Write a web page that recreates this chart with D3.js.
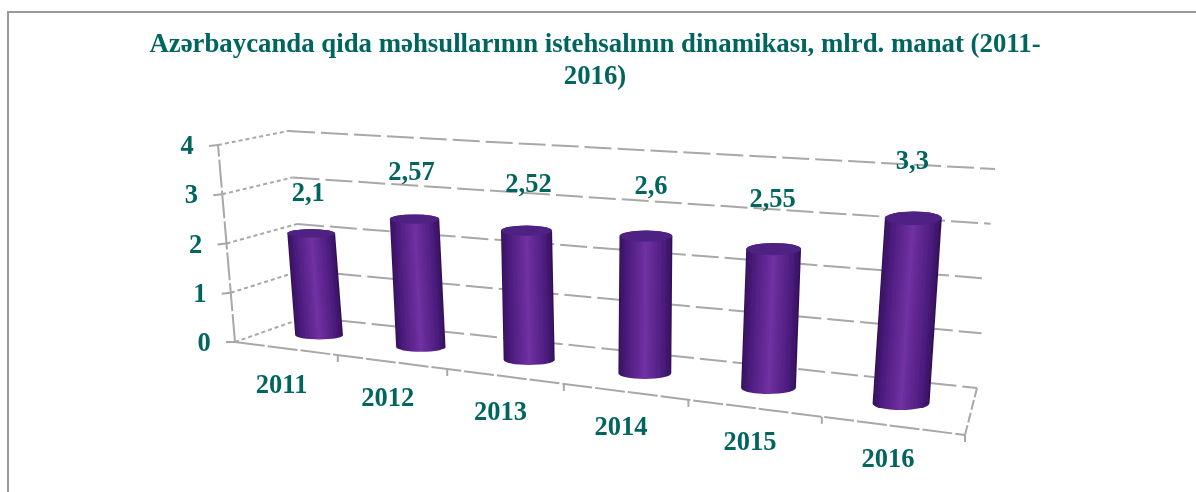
<!DOCTYPE html>
<html><head><meta charset="utf-8">
<script src="https://cdn.jsdelivr.net/npm/d3@7"></script>
<style>html,body{margin:0;padding:0;background:#fff}svg{display:block}text{font-family:"Liberation Serif",serif;font-weight:bold;fill:#05655f}</style>
</head><body><div id="c"></div>
<script>
const categories = ["2011","2012","2013","2014","2015","2016"];
const values = [2.1,2.57,2.52,2.6,2.55,3.3];
const valueLabels = ["2,1","2,57","2,52","2,6","2,55","3,3"];
const titleLines = ["Azərbaycanda qida məhsullarının istehsalının dinamikası, mlrd. manat (2011-","2016)"];

const W=1196,H=492;
const svg=d3.select("#c").append("svg").attr("width",W).attr("height",H);
const defs=svg.append("defs");
const grad=defs.append("linearGradient").attr("id","cyl");
[[0,"#35105c"],[0.14,"#4a1b7c"],[0.5,"#7031a2"],[0.86,"#4a1b7c"],[1,"#320f58"]].forEach(([o,c])=>grad.append("stop").attr("offset",o).attr("stop-color",c));
defs.append("filter").attr("id","soft").append("feGaussianBlur").attr("stdDeviation",0.55);
const root=svg.append("g").attr("filter","url(#soft)");

// frame of the 3-D box (layout, not data)
const corners={fl0:[235,342],fr0:[965,435],bl0:[306,317],br0:[977,388],
               fl1:[218,145],fr1:[984,198],bl1:[288,131],br1:[995,169]};
// hand-placed label shifts seen in the reference (layout, not data)
const labelDx=[-3,-3,2,5,-1,-1], labelDy=[-3,-8,-5,-7,-4,-9];
const lerp=(a,b)=>d3.scaleLinear().domain([0,1]).range([a,b]);
const mix=(a,b,t)=>[lerp(a[0],b[0])(t),lerp(a[1],b[1])(t)];
const k=1.22;                                   // perspective foreshortening along x
const warp=t=>t/(t+k*(1-t));
const vScale=d3.scaleLinear().domain([0,4]).range([0,1]);
const xBand=d3.scaleBand().domain(categories).range([0,1]);
function proj(t,d,v){
  const u=warp(t),h=vScale(v);
  const f=mix(mix(corners.fl0,corners.fr0,u),mix(corners.fl1,corners.fr1,u),h);
  const b=mix(mix(corners.bl0,corners.br0,u),mix(corners.bl1,corners.br1,u),h);
  return mix(f,b,d);
}
const line=d3.line();
const grid=root.append("g").attr("fill","none").attr("stroke","#a8a8a8").attr("stroke-width",2);

// page border
root.append("path").attr("d","M8,492V12H1196").attr("fill","none").attr("stroke","#999").attr("stroke-width",2);

// walls
vScale.ticks(4).forEach(v=>{
  grid.append("path").attr("d",line([proj(0,0,v),proj(0,1,v)])).attr("stroke-dasharray","4 3");
  grid.append("path").attr("d",line([proj(0,1,v),proj(1,1,v)])).attr("stroke-dasharray","27 6");
  const p=proj(0,0,v);
  grid.append("path").attr("d",line([[p[0]-9,p[1]+(v?1:0)],p]));
  root.append("text").attr("x",p[0]-31).attr("y",p[1]+9).attr("text-anchor","middle").attr("font-size",26.5).text(v);
});
grid.append("path").attr("d",line([proj(0,0,0),proj(0,0,4)])).attr("stroke-dasharray","28 3");
grid.append("path").attr("d",line([proj(0,0,0),proj(1,0,0)])).attr("stroke-dasharray","30 3");
grid.append("path").attr("d",line([proj(1,0,0),proj(1,1,0)])).attr("stroke-dasharray","10 3");
d3.range(1,7).forEach(i=>{const p=proj(i/6,0,0);grid.append("path").attr("d",line([p,[p[0],p[1]+7]]));});
categories.forEach((c,i)=>{
  const t=xBand(c)+xBand.bandwidth()/2,p=proj(t,0,0),u=warp(t);
  root.append("text").attr("x",p[0]-4).attr("y",p[1]+45-4*u).attr("text-anchor","middle").attr("font-size",26.5).text(c);
});

// cylinders
categories.forEach((c,i)=>{
  const t=xBand(c)+xBand.bandwidth()/2,
        b=proj(t,0.5,0),a=proj(t,0.5,values[i]);
  const u=warp(t),r=lerp(23.5,29)(u),ry=lerp(4,7)(u);
  const h=b[1]-a[1],lean=(a[0]-b[0])/h;
  const g=root.append("g").attr("transform",`matrix(1,0,${-lean},1,${b[0]},${b[1]})`);
  g.append("path").attr("fill","url(#cyl)")
    .attr("d",`M${-r},0A${r},${ry} 0 0 0 ${r},0L${r},${-h}A${r},${ry} 0 0 0 ${-r},${-h}Z`);
  g.append("ellipse").attr("cx",0).attr("cy",-h).attr("rx",r).attr("ry",ry).attr("fill","#4e2183");
  root.append("text").attr("x",a[0]+labelDx[i]).attr("y",a[1]-28-14*u+labelDy[i]).attr("text-anchor","middle").attr("font-size",26.5).text(valueLabels[i]);
});

// title
titleLines.forEach((l,i)=>root.append("text").attr("x",595).attr("y",52+i*32).attr("text-anchor","middle").attr("font-size",26.8).text(l));
</script></body></html>
